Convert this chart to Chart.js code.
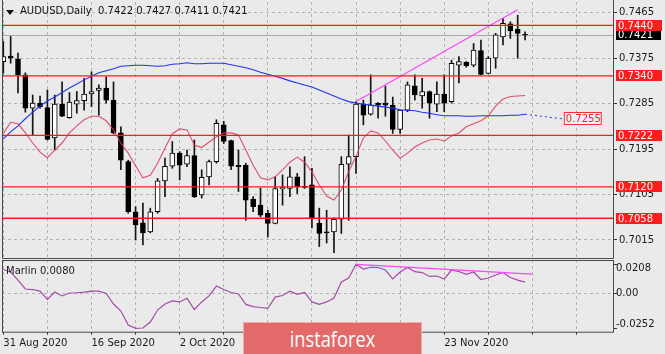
<!DOCTYPE html>
<html>
<head>
<meta charset="utf-8">
<script src="https://cdn.jsdelivr.net/npm/chart.js@4.4.0/dist/chart.umd.min.js"></script>
<style>
  body { margin: 0; width: 665px; height: 354px; overflow: hidden; position: relative; background: #eaeaea; font-family: "DejaVu Sans", sans-serif; }
  #main { position: absolute; left: 0; top: 0; }
  #osc { position: absolute; left: 0; top: 258px; }
  .title { position: absolute; left: 20px; top: 5px; font-size: 10px; color: #111; white-space: pre; }
  .tri { position: absolute; left: 6px; top: 10px; width: 0; height: 0; border-left: 4px solid transparent; border-right: 4px solid transparent; border-top: 5px solid #111; }
  .wm { position: absolute; left: 243px; top: 322px; width: 177px; height: 32px; background: #e46a6a; border: 1px solid #f2aaaa; border-bottom: none; }
  .wm span { position: absolute; left: 0; right: 0; top: 2px; text-align: center; color: #fff; font-family: "Open Sans", sans-serif; font-size: 21px; transform: scaleX(0.87); }
</style>
</head>
<body>
<canvas id="main" width="665" height="260"></canvas>
<canvas id="osc" width="665" height="96"></canvas>
<div class="tri"></div>
<div class="title" id="title"></div>
<div class="wm"><span>instaforex</span></div>
<script>
// daily candles, 31 Aug 2020 onwards
const opens = [0.7368, 0.7379, 0.7373, 0.7342, 0.7276, 0.7286, 0.7277, 0.7217, 0.7284, 0.7257,
  0.7284, 0.7291, 0.7304, 0.7311, 0.7316, 0.7292, 0.7227, 0.7170, 0.7071, 0.7049,
  0.7031, 0.7071, 0.7132, 0.7161, 0.7187, 0.7165, 0.7182, 0.7104, 0.7140, 0.7170,
  0.7243, 0.7212, 0.7163, 0.7163, 0.7096, 0.7084, 0.7068, 0.7048, 0.7116, 0.7117,
  0.7140, 0.7121, 0.7124, 0.7048, 0.7031, 0.7031, 0.7056, 0.7165, 0.7180, 0.7284,
  0.7264, 0.7286, 0.7286, 0.7282, 0.7234, 0.7272, 0.7320, 0.7300, 0.7309, 0.7284,
  0.7304, 0.7289, 0.7361, 0.7367, 0.7361, 0.7390, 0.7345, 0.7375, 0.7417, 0.7443,
  0.7432, 0.7422];
const highs = [0.7408, 0.7418, 0.7385, 0.7346, 0.7302, 0.7300, 0.7312, 0.7302, 0.7328, 0.7307,
  0.7309, 0.7335, 0.7348, 0.7322, 0.7338, 0.7328, 0.7239, 0.7173, 0.7081, 0.7088,
  0.7078, 0.7137, 0.7177, 0.7210, 0.7190, 0.7193, 0.7213, 0.7154, 0.7173, 0.7253,
  0.7250, 0.7213, 0.7193, 0.7167, 0.7101, 0.7118, 0.7074, 0.7140, 0.7144, 0.7160,
  0.7147, 0.7180, 0.7157, 0.7078, 0.7074, 0.7059, 0.7180, 0.7223, 0.7289, 0.7292,
  0.7342, 0.7287, 0.7320, 0.7298, 0.7272, 0.7328, 0.7342, 0.7335, 0.7310, 0.7328,
  0.7342, 0.7371, 0.7378, 0.7368, 0.7404, 0.7411, 0.7378, 0.7424, 0.7454, 0.7447,
  0.7460, 0.7427];
const lows = [0.7345, 0.7365, 0.7306, 0.7268, 0.7223, 0.7276, 0.7213, 0.7193, 0.7259, 0.7256,
  0.7266, 0.7272, 0.7279, 0.7262, 0.7286, 0.7225, 0.7154, 0.7068, 0.7015, 0.7005,
  0.7029, 0.7068, 0.7101, 0.7157, 0.7134, 0.7160, 0.7099, 0.7098, 0.7124, 0.7167,
  0.7206, 0.7154, 0.7111, 0.7054, 0.7071, 0.7061, 0.7021, 0.7047, 0.7084, 0.7101,
  0.7107, 0.7117, 0.7039, 0.7002, 0.7009, 0.6990, 0.7028, 0.7054, 0.7147, 0.7243,
  0.7262, 0.7256, 0.7260, 0.7226, 0.7226, 0.7269, 0.7292, 0.7276, 0.7256, 0.7269,
  0.7269, 0.7286, 0.7326, 0.7357, 0.7358, 0.7342, 0.7344, 0.7355, 0.7401, 0.7414,
  0.7375, 0.7411];
const closes = [0.7378, 0.7375, 0.7342, 0.7276, 0.7286, 0.7279, 0.7214, 0.7284, 0.7260, 0.7288,
  0.7291, 0.7304, 0.7309, 0.7316, 0.7292, 0.7227, 0.7173, 0.7071, 0.7045, 0.7029,
  0.7071, 0.7132, 0.7161, 0.7187, 0.7163, 0.7182, 0.7101, 0.7139, 0.7170, 0.7246,
  0.7210, 0.7161, 0.7160, 0.7094, 0.7081, 0.7064, 0.7048, 0.7117, 0.7119, 0.7140,
  0.7120, 0.7119, 0.7058, 0.7028, 0.7029, 0.7056, 0.7165, 0.7180, 0.7284, 0.7262,
  0.7282, 0.7282, 0.7282, 0.7234, 0.7272, 0.7322, 0.7302, 0.7309, 0.7286, 0.7304,
  0.7286, 0.7365, 0.7368, 0.7360, 0.7391, 0.7343, 0.7375, 0.7421, 0.7444, 0.7429,
  0.7424, 0.7421];

// red (fast) and blue (slow) moving averages
const maFast = [0.7226, 0.7248, 0.7245, 0.7227, 0.7207, 0.7189, 0.7178, 0.7193, 0.7207, 0.7227,
  0.7241, 0.7253, 0.7260, 0.7260, 0.7251, 0.7233, 0.7207, 0.7187, 0.7162, 0.7138,
  0.7143, 0.7167, 0.7197, 0.7225, 0.7235, 0.7233, 0.7203, 0.7198, 0.7209, 0.7219,
  0.7227, 0.7227, 0.7223, 0.7193, 0.7163, 0.7138, 0.7134, 0.7140, 0.7154, 0.7169,
  0.7179, 0.7169, 0.7150, 0.7124, 0.7102, 0.7094, 0.7114, 0.7150, 0.7181, 0.7217,
  0.7231, 0.7227, 0.7211, 0.7193, 0.7177, 0.7187, 0.7199, 0.7207, 0.7213, 0.7215,
  0.7211, 0.7221, 0.7227, 0.7239, 0.7245, 0.7251, 0.7261, 0.7280, 0.7294, 0.7299,
  0.7300, 0.7301];
const maSlow = [0.7215, 0.7229, 0.7241, 0.7255, 0.7268, 0.7280, 0.7290, 0.7298, 0.7307, 0.7316,
  0.7324, 0.7332, 0.7339, 0.7346, 0.7350, 0.7354, 0.7359, 0.7360, 0.7361, 0.7361,
  0.7360, 0.7359, 0.7360, 0.7363, 0.7364, 0.7366, 0.7364, 0.7364, 0.7365, 0.7365,
  0.7365, 0.7362, 0.7359, 0.7356, 0.7352, 0.7347, 0.7343, 0.7339, 0.7335, 0.7330,
  0.7326, 0.7322, 0.7318, 0.7312, 0.7306, 0.7300, 0.7294, 0.7289, 0.7286, 0.7284,
  0.7282, 0.7280, 0.7278, 0.7276, 0.7273, 0.7272, 0.7271, 0.7268, 0.7266, 0.7263,
  0.7261, 0.7261, 0.7261, 0.7260, 0.7260, 0.7261, 0.7261, 0.7261, 0.7261, 0.7262,
  0.7262, 0.7264];
const maSlowExtX = [71, 76];
const maSlowExtY = [0.7264, 0.7255];

const levels = [0.7440, 0.7340, 0.7222, 0.7120, 0.7058];
const priceTicks = [0.7465, 0.7375, 0.7285, 0.7195, 0.7105, 0.7015];
const trendX = [48, 70];
const trendY = [0.7289, 0.7471];

// Marlin oscillator
const marlin = [0.0171, 0.0153, 0.0095, 0.0031, 0.0027, 0.0016, -0.0044, 0.0009, -0.0019, 0.0002,
  0.0004, 0.0009, 0.0016, 0.0016, -0.0001, -0.0077, -0.0127, -0.0227, -0.0251, -0.0249,
  -0.0206, -0.0120, -0.0077, -0.0055, -0.0062, -0.0036, -0.0116, -0.0062, -0.0019, 0.0052,
  0.0027, 0.0006, -0.0005, -0.0080, -0.0095, -0.0102, -0.0108, -0.0027, -0.0016, 0.0015,
  -0.0007, 0.0006, -0.0062, -0.0079, -0.0062, -0.0034, 0.0081, 0.0110, 0.0208, 0.0174,
  0.0187, 0.0185, 0.0167, 0.0103, 0.0153, 0.0185, 0.0155, 0.0149, 0.0121, 0.0124,
  0.0103, 0.0167, 0.0156, 0.0136, 0.0153, 0.0099, 0.0110, 0.0131, 0.0149, 0.0113,
  0.0095, 0.0080];
const marlinTrendX = [48, 72];
const marlinTrendY = [0.0208, 0.0138];
const marlinTicks = [0.0208, 0, -0.0252];

const gridIdx = [0, 6, 12, 18, 24, 30, 36, 42, 48, 54, 60, 66, 72, 78];
const dateIdx = [0, 12, 24, 36, 48, 60];
const dateLabels = ['31 Aug 2020', '16 Sep 2020', '2 Oct 2020', '20 Oct 2020', '5 Nov 2020', '23 Nov 2020'];

const X_MIN = -0.177, X_MAX = 82.97;
const P_MIN = 0.697935, P_MAX = 0.748618;
const M_MIN = -0.02755, M_MAX = 0.02389;
const FONT = '"DejaVu Sans", sans-serif';
const GRID = '#b3b3b3';

const last = closes.length - 1;
document.getElementById('title').textContent = 'AUDUSD,Daily  ' +
  [opens[last], highs[last], lows[last], closes[last]].map(v => v.toFixed(4)).join(' ');

const pts = arr => arr.map((v, i) => ({ x: i, y: v }));
const pair = (xs, ys) => xs.map((x, i) => ({ x: x, y: ys[i] }));

// no label padding: the plot area must fill its canvas exactly
const noPad = s => { s.paddingTop = 0; s.paddingBottom = 0; s.paddingLeft = 0; s.paddingRight = 0; };

function box(ctx, x, yc, w, h, fill, stroke, color, text) {
  const top = Math.round(yc - h / 2);
  ctx.fillStyle = fill;
  ctx.fillRect(x, top, w, h);
  if (stroke) {
    ctx.strokeStyle = stroke;
    ctx.lineWidth = 1;
    ctx.strokeRect(x + 0.5, top + 0.5, w - 1, h - 1);
  }
  ctx.fillStyle = color;
  ctx.font = '10px ' + FONT;
  ctx.textBaseline = 'middle';
  ctx.textAlign = 'left';
  ctx.fillText(text, x + 2, top + h / 2 + 0.5);
}

const mainDecor = {
  id: 'mainDecor',
  beforeDatasetsDraw(chart) {
    const { ctx, chartArea: a, scales: { y } } = chart;
    const by = Math.round(y.getPixelForValue(closes[last])) + 0.5;
    ctx.save();
    ctx.strokeStyle = '#a9a9a9';
    ctx.lineWidth = 1;
    ctx.beginPath();
    ctx.moveTo(a.left, by);
    ctx.lineTo(a.right, by);
    ctx.stroke();
    ctx.restore();
  },
  afterDraw(chart) {
    const { ctx, chartArea: a, scales: { x, y } } = chart;
    ctx.save();
    ctx.strokeStyle = '#4a4a4a';
    ctx.lineWidth = 1;
    ctx.beginPath();
    ctx.moveTo(a.left + 0.5, 0);
    ctx.lineTo(a.left + 0.5, a.bottom + 0.5);
    ctx.lineTo(a.right + 0.5, a.bottom + 0.5);
    ctx.lineTo(a.right + 0.5, 0);
    ctx.stroke();

    box(ctx, a.right + 3, y.getPixelForValue(closes[last]), 45, 10, '#000', null, '#fff', closes[last].toFixed(4));
    levels.forEach(v => {
      box(ctx, a.right + 3, y.getPixelForValue(v), 46, 11, '#ff1c1c', null, '#fff', v.toFixed(4));
    });
    const ev = maSlowExtY[maSlowExtY.length - 1];
    box(ctx, x.getPixelForValue(maSlowExtX[maSlowExtX.length - 1]) + 2, y.getPixelForValue(ev),
      38, 13, '#f0f0f0', '#ff3030', '#ff2020', ev.toFixed(4));
    ctx.restore();
  }
};

const oscDecor = {
  id: 'oscDecor',
  afterDraw(chart) {
    const { ctx, chartArea: a, scales: { y } } = chart;
    ctx.save();
    ctx.strokeStyle = '#4a4a4a';
    ctx.lineWidth = 1;
    ctx.strokeRect(a.left + 0.5, a.top + 0.5, a.right - a.left, a.bottom - a.top);
    ctx.font = '10px ' + FONT;
    ctx.textBaseline = 'middle';
    ctx.fillStyle = '#1a1a1a';
    ctx.textAlign = 'left';
    ctx.fillText('Marlin ' + marlin[last].toFixed(4), a.left + 4, a.top + 11);
    marlinTicks.forEach(v => {
      let py = y.getPixelForValue(v);
      py = Math.min(Math.max(py, a.top + 8.5), a.bottom - 7.5);
      ctx.fillText(v === 0 ? '0.00' : v.toFixed(4), a.right + 3, py);
    });
    ctx.restore();
  }
};

const xScale = (extra) => Object.assign({
  type: 'linear', min: X_MIN, max: X_MAX, offset: false,
  afterBuildTicks: s => { s.ticks = gridIdx.map(v => ({ value: v })); },
  grid: { color: GRID, offset: false },
  border: { display: false, dash: [3, 3] }
}, extra);

new Chart(document.getElementById('main'), {
  type: 'bar',
  data: {
    datasets: [
      ...levels.map(v => ({
        type: 'line', data: [{ x: X_MIN, y: v }, { x: X_MAX, y: v }],
        borderColor: '#ff1a1a', borderWidth: 1.3, pointRadius: 0, order: 0
      })),
      {
        type: 'line', data: pair(trendX, trendY),
        borderColor: '#ff44ff', borderWidth: 1.2, pointRadius: 0, order: 1
      },
      {
        type: 'line', data: pts(maFast),
        borderColor: 'rgba(222,52,82,0.85)', borderWidth: 1.1, pointRadius: 0, order: 1
      },
      {
        type: 'line', data: pts(maSlow),
        borderColor: '#2233ee', borderWidth: 1.1, pointRadius: 0, order: 1
      },
      {
        type: 'line', data: pair(maSlowExtX, maSlowExtY),
        borderColor: '#2233ee', borderWidth: 1, borderDash: [2, 3], pointRadius: 0, order: 1
      },
      {
        label: 'bodies',
        data: opens.map((o, i) => ({ x: i, y: [o, closes[i]] })),
        backgroundColor: opens.map((o, i) => closes[i] >= o ? '#ffffff' : '#000000'),
        borderColor: '#000', borderWidth: 1, borderSkipped: false,
        barThickness: 5, grouped: false, order: 2
      },
      {
        label: 'wicks',
        data: lows.map((l, i) => ({ x: i, y: [l, highs[i]] })),
        backgroundColor: '#151515', borderWidth: 0,
        barThickness: 1, grouped: false, order: 3
      }
    ]
  },
  options: {
    responsive: false, animation: false, events: [],
    layout: { autoPadding: false, padding: { left: 2, top: 2, right: 0, bottom: 2 } },
    plugins: { legend: { display: false }, tooltip: { enabled: false } },
    scales: {
      x: xScale({
        afterFit: s => { s.height = 0; noPad(s); },
        ticks: { display: false },
        grid: { color: GRID, offset: false, drawTicks: false }
      }),
      y: {
        type: 'linear', position: 'right', min: P_MIN, max: P_MAX,
        afterBuildTicks: s => { s.ticks = priceTicks.map(v => ({ value: v })); },
        afterFit: s => { s.width = 52; noPad(s); },
        ticks: { color: '#1a1a1a', font: { family: FONT, size: 10 }, padding: 2, callback: v => v.toFixed(4) },
        grid: { color: GRID, tickColor: '#333', tickLength: 4 },
        border: { display: false, dash: [3, 3] }
      }
    }
  },
  plugins: [mainDecor]
});

new Chart(document.getElementById('osc'), {
  type: 'line',
  data: {
    datasets: [
      {
        data: pair(marlinTrendX, marlinTrendY),
        borderColor: '#ff44ff', borderWidth: 1.2, pointRadius: 0, order: 0
      },
      {
        data: pts(marlin),
        borderColor: '#a24ca8', borderWidth: 1.2, pointRadius: 0, order: 1
      }
    ]
  },
  options: {
    responsive: false, animation: false, events: [],
    layout: { autoPadding: false, padding: { left: 2, top: 2, right: 0, bottom: 0 } },
    plugins: { legend: { display: false }, tooltip: { enabled: false } },
    scales: {
      x: xScale({
        afterFit: s => { s.height = 22.3; noPad(s); },
        ticks: {
          autoSkip: false, maxRotation: 0, minRotation: 0, align: 'start', padding: 3,
          color: '#1a1a1a', font: { family: FONT, size: 10 },
          callback: v => { const k = dateIdx.indexOf(v); return k >= 0 ? dateLabels[k] : ''; }
        },
        grid: { color: GRID, offset: false, tickColor: '#333', tickLength: 3 }
      }),
      y: {
        type: 'linear', position: 'right', min: M_MIN, max: M_MAX,
        afterBuildTicks: s => { s.ticks = marlinTicks.map(v => ({ value: v })); },
        afterFit: s => { s.width = 52; noPad(s); },
        ticks: { display: false },
        grid: {
          color: c => (c.tick && c.tick.value === 0) ? GRID : 'rgba(0,0,0,0)',
          tickColor: '#333', tickLength: 4
        },
        border: { display: false, dash: [3, 3] }
      }
    }
  },
  plugins: [oscDecor]
});
</script>
</body>
</html>
